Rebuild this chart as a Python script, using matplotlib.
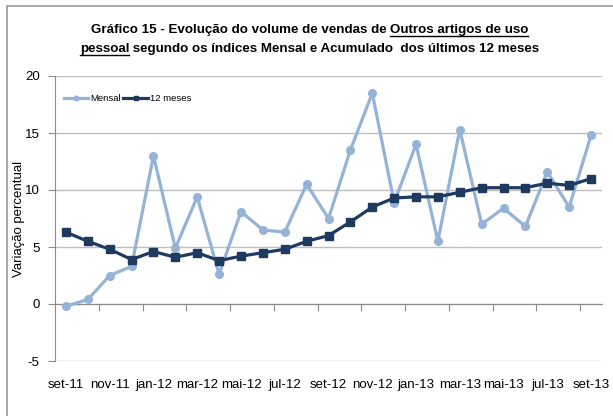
import matplotlib
matplotlib.use("Agg")
import matplotlib.pyplot as plt
from matplotlib.lines import Line2D
from matplotlib.patches import Rectangle

plt.rcParams['font.family'] = ['Liberation Sans', 'DejaVu Sans']

months = ["set-11", "out-11", "nov-11", "dez-11", "jan-12", "fev-12", "mar-12",
          "abr-12", "mai-12", "jun-12", "jul-12", "ago-12", "set-12", "out-12",
          "nov-12", "dez-12", "jan-13", "fev-13", "mar-13", "abr-13", "mai-13",
          "jun-13", "jul-13", "ago-13", "set-13"]
mensal = [-0.2, 0.4, 2.5, 3.3, 13.0, 4.9, 9.4, 2.6, 8.1, 6.5, 6.3, 10.5, 7.5,
          13.5, 18.5, 8.9, 14.0, 5.5, 15.3, 7.0, 8.4, 6.8, 11.6, 8.5, 14.8]
doze_meses = [6.3, 5.5, 4.8, 3.9, 4.6, 4.1, 4.5, 3.8, 4.2, 4.5, 4.8, 5.5, 6.0,
              7.2, 8.5, 9.3, 9.4, 9.4, 9.8, 10.2, 10.2, 10.2, 10.6, 10.4, 11.0]
yticks = [-5, 0, 5, 10, 15, 20]

W, H = 613, 416
fig = plt.figure(figsize=(W / 100, H / 100), dpi=100)
fig.patch.set_facecolor("white")

# outer frame
fig.patches.append(Rectangle((7 / W, -0.2), 1.5, 1.2 - 6 / H,
                             transform=fig.transFigure, fill=False,
                             edgecolor="#9a9a9a", linewidth=1.2))

ax = fig.add_axes([55 / W, 1 - 361 / H, (602 - 55) / W, (361 - 76) / H])
x = list(range(len(months)))

light = "#95b3d7"
dark = "#1f3a5f"
ax.plot(x, mensal, color=light, lw=2.3, marker="o", ms=5.5, label="Mensal", zorder=3)
ax.plot(x, doze_meses, color=dark, lw=2.3, marker="s", ms=5.5, label="12 meses", zorder=4)

ax.set_xlim(-0.5, len(months) - 0.5)
ax.set_ylim(-5, 20)
ax.set_yticks(yticks)
ax.set_yticklabels([str(v) for v in yticks], fontsize=9.5)
ax.yaxis.grid(True, color="#bfbfbf", lw=1)
ax.set_axisbelow(True)
for s in ["top", "right"]:
    ax.spines[s].set_visible(False)
ax.spines["left"].set_color("#8c8c8c")
ax.spines["bottom"].set_position(("data", 0))
ax.spines["bottom"].set_color("#8c8c8c")
ax.tick_params(axis="y", length=5, color="#8c8c8c", pad=6)
bounds = [i + 1.5 for i in range(0, len(months) - 1, 2)]
ax.set_xticks(bounds)
ax.set_xticklabels([])
ax.tick_params(axis="x", length=5, color="#8c8c8c", direction="out")

sec = ax.secondary_xaxis("bottom")
sec.set_xticks(x[::2])
sec.set_xticklabels(months[::2], fontsize=9.5)
sec.tick_params(length=0, pad=13)
sec.spines["bottom"].set_visible(False)

ax.set_ylabel("Variação percentual", fontsize=9.5)
ax.yaxis.set_label_coords((25 - 55) / (602 - 55), 0.5)

leg = ax.legend(loc="upper left", ncol=2, frameon=False, fontsize=6.8,
                markerscale=0.6, handlelength=2.6, columnspacing=0.3,
                handletextpad=0.2, bbox_to_anchor=(0.0, 0.965))

# title with underlined parts
lines = [
    [("Gráfico 15 - Evolução do volume de vendas de ", False), ("Outros artigos de uso", True)],
    [("pessoal", True), (" segundo os índices Mensal e Acumulado  dos últimos 12 meses", False)],
]
ys = [29, 48]
fig.canvas.draw()
r = fig.canvas.get_renderer()
for parts, yp in zip(lines, ys):
    texts = []
    widths = []
    for s, u in parts:
        t = fig.text(0, 0, s, fontsize=9.6, fontweight="bold", va="baseline", ha="left")
        bb = t.get_window_extent(renderer=r)
        texts.append((t, u))
        widths.append(bb.width)
    total = sum(widths)
    x0 = W / 2 + 3 - total / 2
    base = H - (yp + 4)
    for (t, u), w in zip(texts, widths):
        t.set_position((x0 / W, base / H))
        if u:
            fig.add_artist(Line2D([x0 / W, (x0 + w) / W], [(base - 2.5) / H, (base - 2.5) / H],
                                  transform=fig.transFigure, color="black", lw=1))
        x0 += w

fig.savefig("out.png", dpi=100)
